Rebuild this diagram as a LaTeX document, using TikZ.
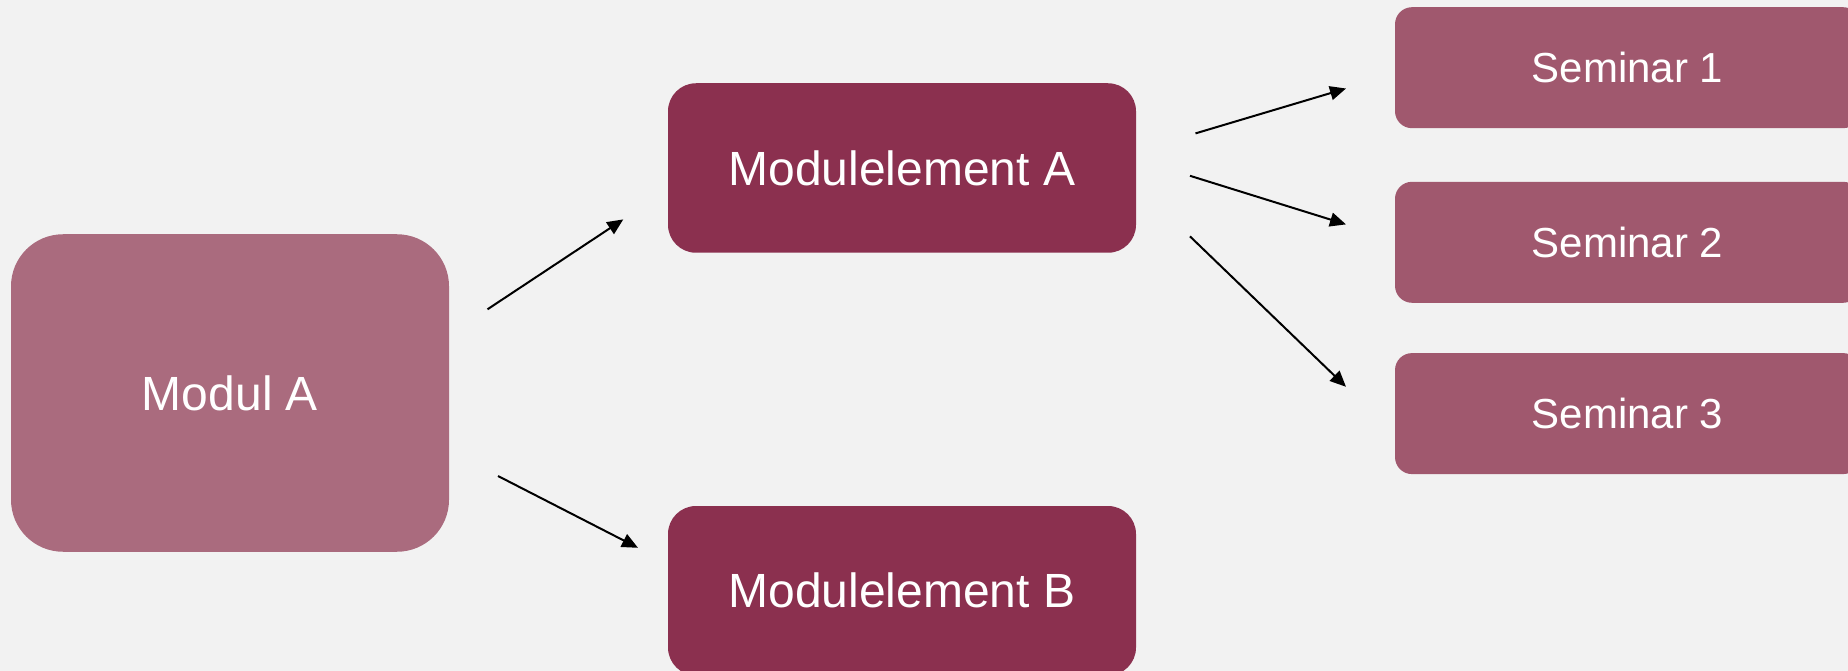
\documentclass[tikz,border=0pt]{standalone}
\usepackage{fontspec}
\setmainfont{Liberation Sans}
\usetikzlibrary{arrows.meta}
\definecolor{bgcol}{HTML}{F2F2F2}
\definecolor{modcol}{HTML}{AA6B7E}
\definecolor{elcol}{HTML}{8B304F}
\definecolor{semcol}{HTML}{A0586E}
\begin{document}
\begin{tikzpicture}[x=1pt,y=-1pt,
  box/.style={rectangle, draw=none, text=white, inner sep=0pt, anchor=center},
  modbox/.style={box, fill=modcol, minimum width=438pt, minimum height=317.5pt, rounded corners=52pt, font=\fontsize{48}{58}\selectfont},
  elbox/.style={box, fill=elcol, minimum width=468pt, minimum height=169.5pt, rounded corners=28pt, font=\fontsize{48}{58}\selectfont},
  sembox/.style={box, fill=semcol, minimum width=465pt, minimum height=121pt, rounded corners=17pt, font=\fontsize{42}{50}\selectfont},
  conn/.style={-{Triangle[length=16pt,width=14pt]}, line width=2pt, black}]
\useasboundingbox (0,0) rectangle (1848,671);
\clip (0,0) rectangle (1848,671);
\fill[bgcol] (0,0) rectangle (1848,671);

\node[modbox] (moda) at (230,393) {Modul A};
\node[elbox] (ela) at (902,168) {Modulelement A};
\node[elbox] (elb) at (902,590.75) {Modulelement B};
\node[sembox] (s1) at (1627.5,67.7) {Seminar 1};
\node[sembox] (s2) at (1627.5,242.3) {Seminar 2};
\node[sembox] (s3) at (1627.5,413.6) {Seminar 3};

\coordinate (a1s) at (487.5,309.3);
\coordinate (a1e) at (623.3,219.4);
\coordinate (a2s) at (498,476);
\coordinate (a2e) at (638,547.8);
\coordinate (b1s) at (1195.5,133.4);
\coordinate (b1e) at (1346,88.5);
\coordinate (b2s) at (1190,175.8);
\coordinate (b2e) at (1346,224.4);
\coordinate (b3s) at (1190,236.4);
\coordinate (b3e) at (1346,386.8);

\draw[conn] (a1s) -- (a1e);
\draw[conn] (a2s) -- (a2e);
\draw[conn] (b1s) -- (b1e);
\draw[conn] (b2s) -- (b2e);
\draw[conn] (b3s) -- (b3e);
\end{tikzpicture}
\end{document}
